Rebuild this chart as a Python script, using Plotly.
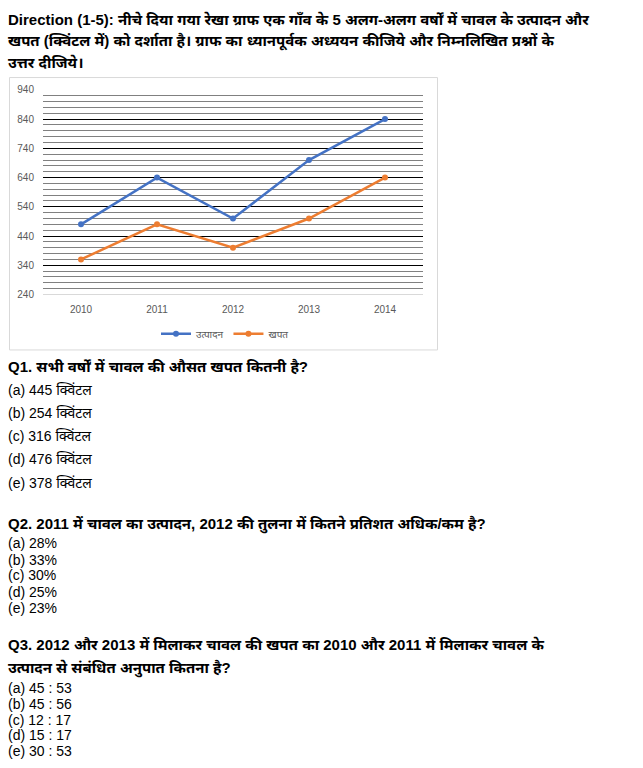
import plotly.graph_objects as go

W, H = 643, 768

years = ["2010", "2011", "2012", "2013", "2014"]
production = [480, 640, 500, 700, 840]
consumption = [360, 480, 400, 500, 640]
series_names = ["उत्पादन", "खपत"]
series_colors = ["#4472C4", "#ED7D31"]

title_lines = [
    "Direction (1-5): नीचे दिया गया रेखा ग्राफ एक गाँव के 5 अलग-अलग वर्षों में चावल के उत्पादन और",
    "खपत (क्विंटल में) को दर्शाता है। ग्राफ का ध्यानपूर्वक अध्ययन कीजिये और निम्नलिखित प्रश्नों के",
    "उत्तर दीजिये।",
]
q1 = "Q1. सभी वर्षों में चावल की औसत खपत कितनी है?"
q1_opts = ["(a) 445 क्विंटल", "(b) 254 क्विंटल", "(c) 316 क्विंटल", "(d) 476 क्विंटल", "(e) 378 क्विंटल"]
q2 = "Q2. 2011 में चावल का उत्पादन, 2012 की तुलना में कितने प्रतिशत अधिक/कम है?"
q2_opts = ["(a) 28%", "(b) 33%", "(c) 30%", "(d) 25%", "(e) 23%"]
q3_lines = [
    "Q3. 2012 और 2013 में मिलाकर चावल की खपत का 2010 और 2011 में मिलाकर चावल के",
    "उत्पादन से संबंधित अनुपात कितना है?",
]
q3_opts = ["(a) 45 : 53", "(b) 45 : 56", "(c) 12 : 17", "(d) 15 : 17", "(e) 30 : 53"]

FONT = "Liberation Sans, Arial, Noto Sans, sans-serif"


def px(x):
    return x / W


def py(y):
    return 1 - y / H


fig = go.Figure()
for name, vals, col in zip(series_names, [production, consumption], series_colors):
    fig.add_trace(go.Scatter(
        x=years, y=vals, name=name, mode="lines+markers",
        line=dict(color=col, width=2.5),
        marker=dict(color=col, size=6),
    ))

annotations = []


def add_text(txt, y, size, bold=False, color="#000000"):
    annotations.append(dict(
        text=f"<b>{txt}</b>" if bold else txt,
        x=px(6), y=py(y), xref="paper", yref="paper",
        xanchor="left", yanchor="middle", showarrow=False,
        font=dict(family=FONT, size=size, color=color),
    ))


for t, y in zip(title_lines, [15, 37, 58]):
    add_text(t, y, 15, bold=True)
add_text(q1, 366, 15, bold=True)
for t, y in zip(q1_opts, [390, 413, 437, 460, 484]):
    add_text(t, y, 14)
add_text(q2, 526, 15, bold=True)
for t, y in zip(q2_opts, [545, 562, 578, 595, 611]):
    add_text(t, y, 14)
for t, y in zip(q3_lines, [648, 672]):
    add_text(t, y, 15, bold=True)
for t, y in zip(q3_opts, [692, 708, 724, 740, 756]):
    add_text(t, y, 14)

fig.update_layout(
    width=W, height=H,
    margin=dict(l=0, r=0, t=0, b=0),
    paper_bgcolor="white", plot_bgcolor="white",
    font=dict(family=FONT, color="#595959", size=10),
    showlegend=True,
    legend=dict(
        orientation="h", x=px(225), y=py(333), xanchor="center", yanchor="middle",
        font=dict(size=10, color="#595959"), itemwidth=30, bgcolor="rgba(0,0,0,0)",
    ),
    xaxis=dict(
        domain=[px(43), px(423)], type="category", range=[-0.5, 4.5],
        showgrid=False, showline=True, linecolor="#d9d9d9", linewidth=1,
        ticks="", tickfont=dict(size=10, color="#595959"), ticklabelstandoff=6,
        fixedrange=True,
    ),
    yaxis=dict(
        domain=[py(293.3), py(86)], range=[240, 940], tick0=240, dtick=100,
        showgrid=True, gridcolor="#000000", gridwidth=1, zeroline=False,
        showline=False, ticks="", tickfont=dict(size=10, color="#595959"),
        ticklabelstandoff=8,
        minor=dict(dtick=20, tick0=240, showgrid=True, gridcolor="#808080", gridwidth=1),
        fixedrange=True,
    ),
    annotations=annotations,
    shapes=[dict(
        type="rect", xref="paper", yref="paper",
        x0=px(9.5), x1=px(437.5), y0=py(349.5), y1=py(73.5),
        line=dict(color="#d9d9d9", width=1), fillcolor="rgba(0,0,0,0)", layer="below",
    )],
)

fig.write_html(
    "out.html", include_plotlyjs=True, config={"displayModeBar": False},
    post_script="document.body.style.margin='0';document.body.style.overflow='hidden';",
)
